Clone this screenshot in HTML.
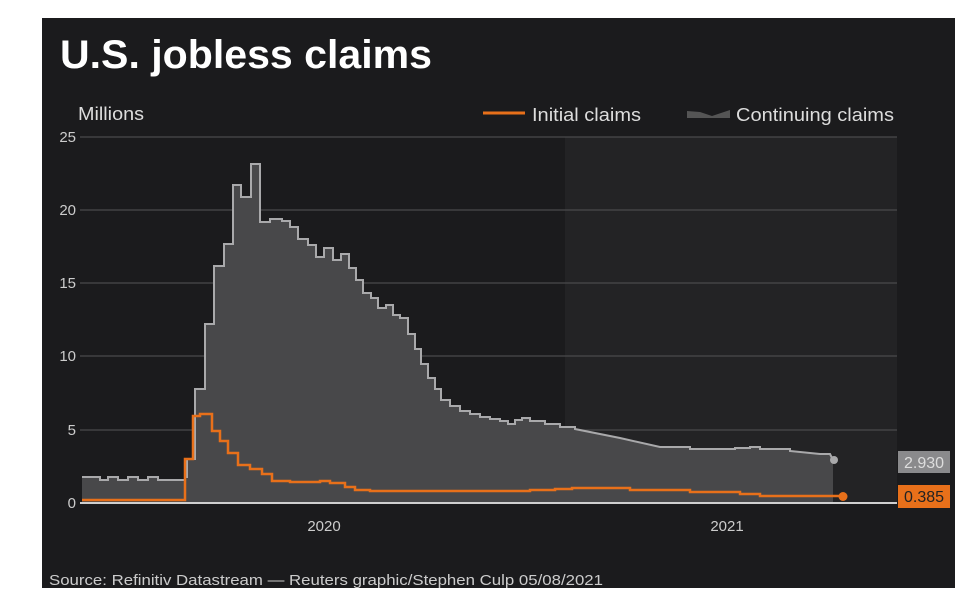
<!DOCTYPE html>
<html><head><meta charset="utf-8"><style>
html,body{margin:0;padding:0;background:#fff;width:975px;height:609px;overflow:hidden}
svg{display:block;font-family:"Liberation Sans",Arial,sans-serif}
</style></head><body>
<svg width="975" height="609" viewBox="0 0 975 609">
<rect x="42" y="18" width="913" height="570" fill="#1b1b1d"/>
<rect x="565" y="137" width="332" height="366" fill="#232325"/>
<text x="60" y="68" fill="#fff" font-size="40" font-weight="bold" textLength="372" lengthAdjust="spacingAndGlyphs">U.S. jobless claims</text>
<text x="78" y="120" fill="#ddd" font-size="18" textLength="66" lengthAdjust="spacingAndGlyphs">Millions</text>
<line x1="483" y1="113" x2="525" y2="113" stroke="#e8701a" stroke-width="3"/>
<text x="532" y="121" fill="#ddd" font-size="18" textLength="109" lengthAdjust="spacingAndGlyphs">Initial claims</text>
<path d="M687,118 L687,111 L700,112 L712,116 L730,110 L730,118 Z" fill="#555"/>
<text x="736" y="121" fill="#ddd" font-size="18" textLength="158" lengthAdjust="spacingAndGlyphs">Continuing claims</text>
<g stroke="#4a4a4c" stroke-width="1.2">
<line x1="80" y1="137" x2="897" y2="137"/>
<line x1="80" y1="210" x2="897" y2="210"/>
<line x1="80" y1="283" x2="897" y2="283"/>
<line x1="80" y1="356" x2="897" y2="356"/>
<line x1="80" y1="430" x2="897" y2="430"/>
</g>
<g fill="#ccc" font-size="15" text-anchor="end">
<text x="76" y="142">25</text><text x="76" y="215">20</text><text x="76" y="288">15</text>
<text x="76" y="361">10</text><text x="76" y="435">5</text><text x="76" y="508">0</text>
</g>
<path d="M82,477 H100 V480 H108 V477 H118 V480 H128 V477 H138 V480 H148 V477 H158 V480 H185 V477 H187 V459 H195 V389 H205 V324 H214 V266 H224 V244 H233 V185 H241 V197 H251 V164 H260 V222 H270 V219 H282 V221 H290 V227 H298 V239 H308 V245 H316 V257 H324 V248 H333 V260 H341 V254 H349 V268 H356 V280 H363 V293 H371 V298 H378 V308 H386 V305 H393 V315 H400 V318 H408 V334 H415 V349 H421 V364 H428 V378 H435 V389 H441 V400 H450 V406 H460 V411 H470 V414 H480 V417 H490 V419 H500 V421 H508 V424 H515 V420 H522 V418 H530 V421 H545 V424 H560 V427 H575 V429 L620,438 L660,447 H690 V449 H735 V448 H750 V447 H760 V449 H790 V451 L820,454 H830 L833,460 V503 H82 Z" fill="#48484a"/>
<path d="M82,477 H100 V480 H108 V477 H118 V480 H128 V477 H138 V480 H148 V477 H158 V480 H185 V477 H187 V459 H195 V389 H205 V324 H214 V266 H224 V244 H233 V185 H241 V197 H251 V164 H260 V222 H270 V219 H282 V221 H290 V227 H298 V239 H308 V245 H316 V257 H324 V248 H333 V260 H341 V254 H349 V268 H356 V280 H363 V293 H371 V298 H378 V308 H386 V305 H393 V315 H400 V318 H408 V334 H415 V349 H421 V364 H428 V378 H435 V389 H441 V400 H450 V406 H460 V411 H470 V414 H480 V417 H490 V419 H500 V421 H508 V424 H515 V420 H522 V418 H530 V421 H545 V424 H560 V427 H575 V429 L620,438 L660,447 H690 V449 H735 V448 H750 V447 H760 V449 H790 V451 L820,454 H830 L833,460" fill="none" stroke="#a9a9ab" stroke-width="2"/>
<circle cx="834" cy="460" r="4" fill="#a9a9ab"/>
<line x1="80" y1="503" x2="897" y2="503" stroke="#d0d0d0" stroke-width="2"/>
<path d="M82,500 H185 V459 H193 V416 H200 V414 H212 V431 H220 V441 H228 V453 H238 V465 H250 V469 H262 V474 H272 V481 H290 V482 H320 V481 H330 V483 H345 V487 H355 V490 H370 V491 H530 V490 H555 V489 H572 V488 H630 V490 H690 V492 H740 V494 H760 V496 H843" fill="none" stroke="#e8701a" stroke-width="2.5"/>
<circle cx="843" cy="496.5" r="4.5" fill="#e8701a"/>
<rect x="898" y="451" width="52" height="22" fill="#8a8a8c"/>
<text x="924" y="468" fill="#ddd" font-size="16" text-anchor="middle">2.930</text>
<rect x="898" y="485" width="52" height="23" fill="#e8701a"/>
<text x="924" y="502" fill="#222" font-size="16" text-anchor="middle">0.385</text>
<g fill="#ccc" font-size="15" text-anchor="middle">
<text x="324" y="531">2020</text><text x="727" y="531">2021</text>
</g>
<text x="49" y="585" fill="#ccc" font-size="15" textLength="554" lengthAdjust="spacingAndGlyphs">Source: Refinitiv Datastream — Reuters graphic/Stephen Culp 05/08/2021</text>
</svg>
</body></html>
